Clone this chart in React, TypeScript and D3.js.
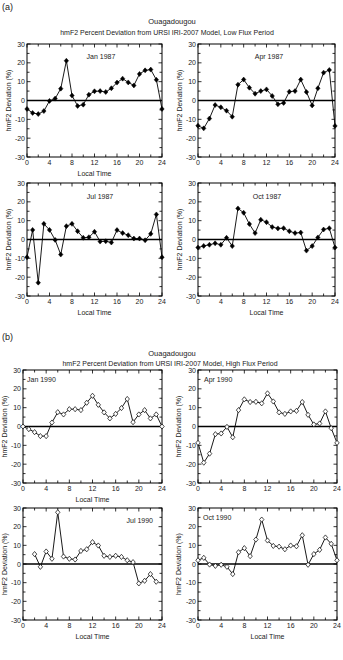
import React from "react";
import * as d3 from "d3";

const hours = d3.range(0, 25);
const xTickLabels = [0, 4, 8, 12, 16, 20, 24];
const yTickLabels = [-30, -20, -10, 0, 10, 20, 30];

const jan1987 = [-4.5, -6.6, -7.2, -5.6, -0.2, 1, 6.3, 21.1, 2.6, -2.9, -2.2, 3.1, 4.9, 5, 4.5, 6.5, 9.5, 11.6, 9.6, 8, 14.1, 16, 16.4, 11, -4.5];
const apr1987 = [-13.4, -14.8, -9.6, -2.4, -3.6, -5.4, -8.6, 8.4, 11.1, 6.8, 3.6, 5, 5.9, 2.4, -2, -1.3, 4.7, 5, 11.1, 4.5, -2.6, 6.5, 14.8, 16.2, -13.5];
const jul1987 = [-9.4, 5.1, -22.9, 8.3, 5.1, -0.2, -8, 7.1, 8.3, 4.4, 0.9, 1.2, 4.1, -1.1, -0.9, -1.6, 5, 3.4, 2.3, 0.5, 0.5, -0.4, 3, 13.3, -9.4];
const oct1987 = [-4.3, -3.4, -2.8, -2, -2.8, 0.9, -3.5, 16.5, 14.2, 8.2, 3.4, 10.5, 9.2, 6.6, 5.9, 6, 4.4, 3.4, 3.7, -5.9, -3.5, 1.1, 5.3, 6, -4.3];

const jan1990 = [0, -1.4, -3, -5.1, -5.1, 2.1, 7.6, 6.4, 9.2, 9.2, 8.7, 12.6, 16.3, 11.5, 7.5, 4.3, 6.7, 9.8, 14.6, 2.3, 6.4, 8.7, 4.3, 6.4, 0];
const apr1990 = [-8.7, -19.2, -14.4, -4.1, -3.7, -0.2, -5.7, 8.7, 14.4, 13, 13.1, 12.3, 17.6, 13.3, 7.5, 6.7, 8, 8.3, 13, 6.2, 1.1, 1.6, 8, -0.9, -8.7];
const jul1990 = [null, null, 5.3, -1.5, 6.7, 2.8, 27.7, 4, 2.8, 2.4, 7, 7.9, 11.7, 9.9, 4.4, 3.8, 4.4, 3.8, 2, 1, -10.4, -9, -5.4, -9.5, null];
const oct1990 = [2, 3.3, -0.3, -1, -0.4, -1.5, -5.4, 6.3, 8.5, 4.2, 13.1, 23.8, 12.6, 9.7, 9.3, 7.9, 9.9, 9.5, 15.4, -0.4, 5.3, 7.6, 14.2, 10.8, 2];

const titleStation = "Ouagadougou";
const titleLow = "hmF2 Percent Deviation from URSI IRI-2007 Model, Low Flux Period";
const titleHigh = "hmF2 Percent Deviation from URSI IRI-2007 Model, High Flux Period";
const yLabel = "hmF2 Deviation (%)";
const xLabel = "Local Time";

const FONT = "'Liberation Sans', Arial, Helvetica, sans-serif";
const INK = "#1a1a1a";

type Panel = {
  label: string;
  values: (number | null)[];
  x0: number; x1: number; y0: number; y1: number;
  open: boolean;
  labelX: number; labelY: number; anchor: "start" | "middle" | "end";
  showXLabel: boolean;
  yLabelX: number;
};

const panels: Panel[] = [
  { label: "Jan 1987", values: jan1987, x0: 27, x1: 162, y0: 44, y1: 157, open: false, labelX: 101, labelY: 59, anchor: "middle", showXLabel: true, yLabelX: 9 },
  { label: "Apr 1987", values: apr1987, x0: 198, x1: 335, y0: 44, y1: 157, open: false, labelX: 269, labelY: 59, anchor: "middle", showXLabel: false, yLabelX: 180 },
  { label: "Jul 1987", values: jul1987, x0: 27, x1: 162, y0: 183, y1: 296, open: false, labelX: 100, labelY: 199, anchor: "middle", showXLabel: true, yLabelX: 9 },
  { label: "Oct 1987", values: oct1987, x0: 198, x1: 335, y0: 183, y1: 296, open: false, labelX: 267, labelY: 199, anchor: "middle", showXLabel: true, yLabelX: 180 },
  { label: "Jan 1990", values: jan1990, x0: 23, x1: 162, y0: 370, y1: 483, open: true, labelX: 27, labelY: 382, anchor: "start", showXLabel: true, yLabelX: 5 },
  { label: "Apr 1990", values: apr1990, x0: 198, x1: 337, y0: 370, y1: 483, open: true, labelX: 204, labelY: 382, anchor: "start", showXLabel: false, yLabelX: 179 },
  { label: "Jul 1990", values: jul1990, x0: 23, x1: 162, y0: 508, y1: 620, open: true, labelX: 153, labelY: 523, anchor: "end", showXLabel: true, yLabelX: 5 },
  { label: "Oct 1990", values: oct1990, x0: 198, x1: 337, y0: 508, y1: 620, open: true, labelX: 203, labelY: 520, anchor: "start", showXLabel: true, yLabelX: 179 },
];

const diamondPath = (w: number, h: number) => {
  const p = d3.path();
  p.moveTo(0, -h / 2);
  p.lineTo(w / 2, 0);
  p.lineTo(0, h / 2);
  p.lineTo(-w / 2, 0);
  p.closePath();
  return p.toString();
};

function PanelView({ p }: { p: Panel }) {
  const x = d3.scaleLinear().domain([0, 24]).range([p.x0, p.x1]);
  const y = d3.scaleLinear().domain([-30, 30]).range([p.y1, p.y0]);
  const pts = hours
    .map((h, i) => ({ h, v: p.values[i] }))
    .filter((d) => d.v !== null && d.v !== undefined) as { h: number; v: number }[];
  const line = d3.line<{ h: number; v: number }>().x((d) => x(d.h)).y((d) => y(d.v));
  const diamond = p.open ? diamondPath(4.4, 5.2) : diamondPath(4.4, 5);
  const xTicks = d3.range(0, 25, 2);
  const yTicks = d3.range(-30, 31, 5);
  return (
    <g>
      <rect x={p.x0} y={p.y0} width={p.x1 - p.x0} height={p.y1 - p.y0} fill="none" stroke="#000" strokeWidth={1} />
      {xTicks.map((t) => {
        const len = t % 4 === 0 ? 3.5 : 2.5;
        return (
          <g key={"xt" + t}>
            <line x1={x(t)} x2={x(t)} y1={p.y1} y2={p.y1 - len} stroke="#000" strokeWidth={0.8} />
            <line x1={x(t)} x2={x(t)} y1={p.y0} y2={p.y0 + len} stroke="#000" strokeWidth={0.8} />
          </g>
        );
      })}
      {yTicks.map((t) => {
        const len = t % 10 === 0 ? 3.5 : 2.5;
        return (
          <g key={"yt" + t}>
            <line x1={p.x0} x2={p.x0 + len} y1={y(t)} y2={y(t)} stroke="#000" strokeWidth={0.8} />
            <line x1={p.x1} x2={p.x1 - len} y1={y(t)} y2={y(t)} stroke="#000" strokeWidth={0.8} />
          </g>
        );
      })}
      {xTickLabels.map((t) => (
        <text key={"xl" + t} x={x(t)} y={p.y1 + 8} fontSize={7} textAnchor="middle" fontFamily={FONT} fill={INK}>{t}</text>
      ))}
      {yTickLabels.map((t) => (
        <text key={"yl" + t} x={p.x0 - 2} y={y(t) + 2.5} fontSize={7} textAnchor="end" fontFamily={FONT} fill={INK}>{t}</text>
      ))}
      {p.showXLabel && (
        <text x={(p.x0 + p.x1) / 2} y={p.y1 + 19} fontSize={7} textAnchor="middle" fontFamily={FONT} fill={INK}>{xLabel}</text>
      )}
      <text transform={`translate(${p.yLabelX},${(p.y0 + p.y1) / 2}) rotate(-90)`} fontSize={7} textAnchor="middle" dy="0.35em" fontFamily={FONT} fill={INK}>{yLabel}</text>
      <line x1={p.x0} x2={p.x1} y1={y(0)} y2={y(0)} stroke="#000" strokeWidth={1.6} />
      <path d={line(pts) || ""} fill="none" stroke="#000" strokeWidth={0.9} />
      {pts.map((d) => (
        <path key={"m" + d.h} d={diamond} transform={`translate(${x(d.h)},${y(d.v)})`} fill={p.open ? "#fff" : "#000"} stroke="#000" strokeWidth={p.open ? 0.7 : 0.5} />
      ))}
      <text x={p.labelX} y={p.labelY} fontSize={7} textAnchor={p.anchor} fontFamily={FONT} fill={INK}>{p.label}</text>
    </g>
  );
}

export default function App() {
  return (
    <svg width={343} height={660} viewBox="0 0 343 660" style={{ position: "absolute", left: 0, top: 0, background: "#fff" }}>
      <rect x={0} y={0} width={343} height={660} fill="#fff" />
      <text x={2} y={10} fontSize={9} fontFamily={FONT} fill={INK}>(a)</text>
      <text x={172} y={24} fontSize={7.5} textAnchor="middle" fontFamily={FONT} fill={INK}>{titleStation}</text>
      <text x={167} y={35} fontSize={7} textAnchor="middle" fontFamily={FONT} fill={INK}>{titleLow}</text>
      <text x={2} y={340} fontSize={9} fontFamily={FONT} fill={INK}>(b)</text>
      <text x={172} y={356} fontSize={7.5} textAnchor="middle" fontFamily={FONT} fill={INK}>{titleStation}</text>
      <text x={170} y={366} fontSize={7} textAnchor="middle" fontFamily={FONT} fill={INK}>{titleHigh}</text>
      {panels.map((p) => (
        <PanelView key={p.label} p={p} />
      ))}
    </svg>
  );
}
